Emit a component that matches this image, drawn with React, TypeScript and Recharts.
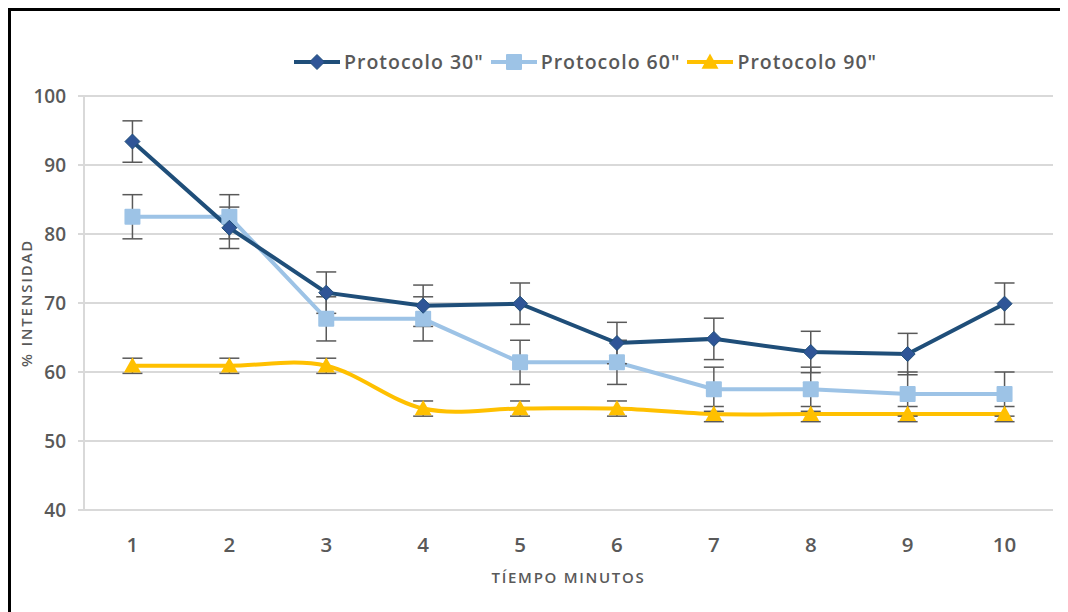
import React from "react";
import {
  CartesianGrid,
  ErrorBar,
  Legend,
  Line,
  LineChart,
  XAxis,
  YAxis,
} from "recharts";

const minutes = [1, 2, 3, 4, 5, 6, 7, 8, 9, 10];
const protocolo30 = [93.4, 80.9, 71.5, 69.6, 69.9, 64.2, 64.8, 62.9, 62.6, 69.9];
const protocolo60 = [82.5, 82.5, 67.7, 67.7, 61.4, 61.4, 57.5, 57.5, 56.8, 56.8];
const protocolo90 = [60.9, 60.9, 60.9, 54.7, 54.7, 54.7, 53.9, 53.9, 53.9, 53.9];
const err30 = [3, 3, 3, 3, 3, 3, 3, 3, 3, 3];
const err60 = [3.2, 3.2, 3.2, 3.2, 3.2, 3.2, 3.2, 3.2, 3.2, 3.2];
const err90 = [1.1, 1.1, 1.1, 1.1, 1.1, 1.1, 1.1, 1.1, 1.1, 1.1];
const yTicks = [40, 50, 60, 70, 80, 90, 100];

const data = minutes.map((m, i) => ({
  m,
  p30: protocolo30[i],
  p60: protocolo60[i],
  p90: protocolo90[i],
  e30: err30[i],
  e60: err60[i],
  e90: err90[i],
}));

// tick marks sit between categories, like excel
const edges = [...minutes.map((m) => m - 0.5), minutes[minutes.length - 1] + 0.5];

const FONT = "'Open Sans', sans-serif";
const GREY = "#595959";

const C30 = "#1F4E79";
const C30_DOT = "#2F5597";
const C60 = "#9DC3E6";
const C90 = "#FFC000";

// excel-ish smoothed line (catmull-rom through the points)
const smoothCurve = (context: any) => {
  let pts: number[][] = [];
  return {
    areaStart() {},
    areaEnd() {},
    lineStart() {
      pts = [];
    },
    point(x: number, y: number) {
      pts.push([+x, +y]);
    },
    lineEnd() {
      if (!pts.length) return;
      context.moveTo(pts[0][0], pts[0][1]);
      for (let i = 0; i < pts.length - 1; i++) {
        const p0 = pts[Math.max(i - 1, 0)];
        const p1 = pts[i];
        const p2 = pts[i + 1];
        const p3 = pts[Math.min(i + 2, pts.length - 1)];
        context.bezierCurveTo(
          p1[0] + (p2[0] - p0[0]) / 6,
          p1[1] + (p2[1] - p0[1]) / 6,
          p2[0] - (p3[0] - p1[0]) / 6,
          p2[1] - (p3[1] - p1[1]) / 6,
          p2[0],
          p2[1]
        );
      }
    },
  };
};

const Diamond = ({ cx, cy, s = 7.5 }: any) => (
  <path
    d={`M${cx},${cy - s}L${cx + s},${cy}L${cx},${cy + s}L${cx - s},${cy}Z`}
    fill={C30_DOT}
    stroke={C30}
    strokeWidth={1}
  />
);
const Square = ({ cx, cy, s = 8 }: any) => (
  <rect x={cx - s} y={cy - s} width={s * 2} height={s * 2} fill={C60} rx={1} />
);
const Triangle = ({ cx, cy, s = 8.5 }: any) => (
  <path d={`M${cx},${cy - s}L${cx + s},${cy + s * 0.8}L${cx - s},${cy + s * 0.8}Z`} fill={C90} />
);

const legendItems = [
  { label: 'Protocolo 30"', color: C30, Marker: Diamond },
  { label: 'Protocolo 60"', color: C60, Marker: Square },
  { label: 'Protocolo 90"', color: C90, Marker: Triangle },
];

const LegendContent = () => (
  <div style={{ display: "flex", alignItems: "center", fontFamily: FONT }}>
    {legendItems.map(({ label, color, Marker }) => (
      <div key={label} style={{ display: "flex", alignItems: "center", marginRight: 6 }}>
        <svg width={48} height={20}>
          <line x1={1} y1={10} x2={47} y2={10} stroke={color} strokeWidth={4} />
          <Marker cx={24} cy={10} />
        </svg>
        <span
          style={{
            marginLeft: 3,
            fontSize: 19.5,
            fontWeight: 600,
            color: GREY,
            letterSpacing: 1,
          }}
        >
          {label}
        </span>
      </div>
    ))}
  </div>
);

const App = () => {
  return (
    <div
      style={{
        width: 1051,
        height: 610,
        border: "3px solid #000",
        background: "#fff",
      }}
    >
      <LineChart
        data={data}
        width={1049}
        height={600}
        margin={{ top: 30, right: 7, left: 0, bottom: 26 }}
      >
        <CartesianGrid vertical={false} stroke="#d9d9d9" strokeWidth={2} />
        <XAxis
          xAxisId="edge"
          type="number"
          dataKey="m"
          domain={[0.5, 10.5]}
          ticks={edges}
          tickFormatter={() => ""}
          height={0}
          stroke="#d9d9d9"
          strokeWidth={2}
          tickSize={7}
        />
        <XAxis
          type="number"
          dataKey="m"
          domain={[0.5, 10.5]}
          ticks={minutes}
          axisLine={false}
          tickLine={false}
          height={75}
          tickMargin={21}
          tick={{ fill: GREY, fontSize: 20.5, fontFamily: FONT, fontWeight: 600 }}
          label={{
            value: "TÍEMPO MINUTOS",
            position: "insideBottom",
            offset: 2,
            fill: GREY,
            fontSize: 15,
            fontFamily: FONT,
            fontWeight: 600,
            letterSpacing: 1.7,
          }}
        />
        <YAxis
          domain={[40, 100]}
          ticks={yTicks}
          width={73}
          stroke="#d9d9d9"
          strokeWidth={2}
          tickSize={6}
          tickMargin={12}
          tick={{ fill: GREY, fontSize: 19, fontFamily: FONT, fontWeight: 600 }}
          label={{
            value: "% INTENSIDAD",
            angle: -90,
            position: "insideLeft",
            offset: 16,
            fill: GREY,
            fontSize: 15,
            fontFamily: FONT,
            fontWeight: 600,
            letterSpacing: 1.8,
            style: { textAnchor: "middle" },
          }}
        />
        <Legend
          verticalAlign="top"
          height={55}
          content={<LegendContent />}
          wrapperStyle={{ left: 282, top: 37, width: 660 }}
        />
        <Line
          dataKey="p90"
          type={smoothCurve as any}
          stroke={C90}
          strokeWidth={4}
          dot={<Triangle />}
          activeDot={false}
          isAnimationActive={false}
        >
          <ErrorBar dataKey="e90" direction="y" width={10} stroke={GREY} strokeWidth={1.5} />
        </Line>
        <Line
          dataKey="p60"
          type="linear"
          stroke={C60}
          strokeWidth={4}
          dot={<Square />}
          activeDot={false}
          isAnimationActive={false}
        >
          <ErrorBar dataKey="e60" direction="y" width={10} stroke={GREY} strokeWidth={1.5} />
        </Line>
        <Line
          dataKey="p30"
          type="linear"
          stroke={C30}
          strokeWidth={4}
          dot={<Diamond />}
          activeDot={false}
          isAnimationActive={false}
        >
          <ErrorBar dataKey="e30" direction="y" width={10} stroke={GREY} strokeWidth={1.5} />
        </Line>
      </LineChart>
    </div>
  );
};

export default App;
